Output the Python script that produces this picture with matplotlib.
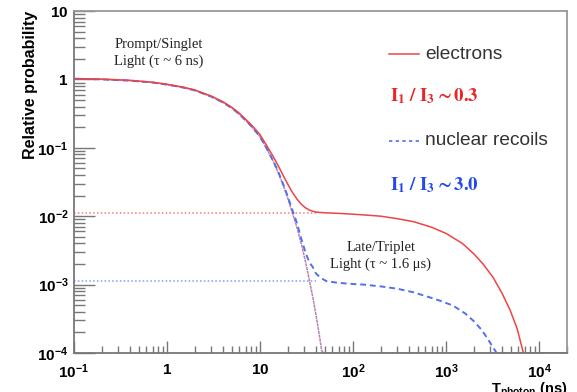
import numpy as np
import matplotlib
matplotlib.use("Agg")
import matplotlib.pyplot as plt
from matplotlib.ticker import FixedLocator, LogLocator, NullFormatter

plt.rcParams['font.family'] = ['Liberation Sans', 'DejaVu Sans']
plt.rcParams['mathtext.fontset'] = 'custom'
plt.rcParams['mathtext.rm'] = 'Liberation Sans'
plt.rcParams['mathtext.bf'] = 'Liberation Sans:bold'

# singlet (prompt) component, common to both populations
t_prompt = [0.1, 0.2, 0.4, 0.7, 1, 1.5, 2, 3, 4, 5, 6, 8, 10, 12, 14, 16, 18, 20,
            22, 25, 28, 31, 34, 37, 40, 43, 46, 48]
singlet = [1.02, 1.00, 0.96, 0.90, 0.84, 0.76, 0.69, 0.56, 0.46, 0.38, 0.31, 0.21,
           0.145, 0.093, 0.062, 0.041, 0.027, 0.018, 0.0118, 0.0068, 0.0038, 0.0021,
           0.00115, 6.5e-4, 3.6e-4, 2.0e-4, 1.1e-4, 7e-5]

# electrons (singlet + triplet)
t_elec = [0.1, 0.2, 0.4, 0.7, 1, 1.5, 2, 3, 4, 5, 6, 8, 10, 12, 14, 16, 18, 20, 22,
          25, 28, 31, 34, 37, 40, 50, 70, 100, 150, 200, 300, 450, 700, 1000, 1500,
          2000, 2500, 3200, 4000, 4900, 5800, 6800, 7500]
p_elec = [1.03, 1.01, 0.97, 0.91, 0.85, 0.77, 0.70, 0.57, 0.47, 0.39, 0.32, 0.22,
          0.156, 0.104, 0.073, 0.052, 0.038, 0.029, 0.023, 0.0178, 0.0148, 0.0132,
          0.0123, 0.0118, 0.0115, 0.0112, 0.0110, 0.0107, 0.0103, 0.0100, 0.0092,
          0.0083, 0.0069, 0.0056, 0.0040, 0.0028, 0.0020, 0.00128, 7.5e-4, 4.2e-4,
          2.3e-4, 1.0e-4, 6e-5]

# nuclear recoils (singlet + weaker triplet)
t_nr = [0.1, 0.2, 0.4, 0.7, 1, 1.5, 2, 3, 4, 5, 6, 8, 10, 12, 14, 16, 18, 20, 22,
        25, 28, 31, 34, 37, 40, 45, 52, 70, 100, 130, 200, 300, 450, 670, 900, 1200,
        1600, 2000, 2400, 2750, 3100, 3500, 3900]
p_nr = [1.02, 1.00, 0.96, 0.90, 0.84, 0.76, 0.69, 0.56, 0.46, 0.38, 0.31, 0.21,
        0.146, 0.094, 0.063, 0.042, 0.028, 0.019, 0.0129, 0.0079, 0.0045, 0.0029,
        0.0021, 0.0018, 0.00145, 0.00125, 0.00112, 0.00106, 0.00102, 0.00100,
        0.00094, 0.00087, 0.00077, 0.00065, 0.00057, 0.00049, 0.00038, 0.00029,
        0.00022, 0.000168, 0.000130, 0.000100, 7.5e-5]

# triplet components extrapolated back to early times
t_trip = [0.1, 40]
trip_elec = [0.0112, 0.0112]
trip_nr = [0.00112, 0.00112]

XMIN, XMAX = 0.1, 2e4
YMIN, YMAX = 1e-4, 10

RED = '#ee4444'
BLUE = '#5270ee'


def floored(t, v):
    # curves that drop below the range run along the lower edge
    return np.append(t, XMAX), np.maximum(np.append(v, YMIN), YMIN)


fig = plt.figure(figsize=(5.77, 3.92), dpi=100)
ax = fig.add_axes([0.1282, 0.0995, 0.8545, 0.8724])

x, y = floored(t_prompt, singlet)
ax.plot(x, y, color=RED, lw=1.1, ls=(0, (1, 1.5)), alpha=0.8)
ax.plot(x, y, color=BLUE, lw=1.1, ls=(1, (1, 1.5)), alpha=0.8)
ax.plot(t_trip, trip_elec, color=RED, lw=1.1, ls=(0, (1, 1.5)), alpha=0.7)
ax.plot(t_trip, trip_nr, color=BLUE, lw=1.1, ls=(0, (1, 1.5)), alpha=0.7)

x, y = floored(t_nr, p_nr)
ax.plot(x, y, color=BLUE, lw=1.4, ls=(0, (3, 2)))
x, y = floored(t_elec, p_elec)
ax.plot(x, y, color=RED, lw=1.1)

ax.set_xscale('log')
ax.set_yscale('log')
ax.set_xlim(XMIN, XMAX)
ax.set_ylim(YMIN, YMAX)


def dec_label(v):
    if v == 1:
        return r'$\mathbf{1}$'
    if v == 10:
        return r'$\mathbf{10}$'
    return r'$\mathbf{10^{%d}}$' % int(round(np.log10(v)))


xt = [0.1, 1, 10, 100, 1000, 10000]
yt = [1e-4, 1e-3, 1e-2, 1e-1, 1, 10]
ax.xaxis.set_major_locator(FixedLocator(xt))
ax.set_xticklabels([dec_label(v) for v in xt])
ax.yaxis.set_major_locator(FixedLocator(yt))
ax.set_yticklabels([dec_label(v) for v in yt])
ax.xaxis.set_minor_locator(LogLocator(base=10, subs=np.arange(2, 10), numticks=20))
ax.yaxis.set_minor_locator(LogLocator(base=10, subs=np.arange(2, 10), numticks=20))
ax.xaxis.set_minor_formatter(NullFormatter())
ax.yaxis.set_minor_formatter(NullFormatter())

ax.tick_params(axis='x', which='major', direction='in', length=9, width=1, pad=7,
               labelsize=11, color='#777777')
ax.tick_params(axis='x', which='minor', direction='in', length=5, width=1, color='#777777')
ax.tick_params(axis='y', which='major', direction='in', length=15, width=1, pad=4,
               labelsize=11, color='#777777')
ax.tick_params(axis='y', which='minor', direction='in', length=8, width=1, color='#777777')
for s in ax.spines.values():
    s.set_color('#777777')
    s.set_linewidth(1.3)
ax.spines['top'].set_color('#999999')
ax.spines['right'].set_color('#999999')

ax.set_ylabel('Relative probability', fontsize=11.5, fontweight='bold', loc='top')
ax.yaxis.set_label_coords(-0.073, 1.0)
ax.set_xlabel(r'$\mathbf{T_{photon}}$ (ns)', fontsize=10.5, fontweight='bold', loc='right')
ax.xaxis.set_label_coords(1.0, -0.082)

serif = ['Liberation Serif', 'DejaVu Serif']
ax.text(0.82, 2.4, 'Prompt/Singlet\nLight (\u03c4 ~ 6 ns)', family=serif, fontsize=10.5,
        ha='center', va='center', linespacing=1.35, color='#222222')
ax.text(200, 2.6e-3, 'Late/Triplet\nLight (\u03c4 ~ 1.6 \u03bcs)', family=serif,
        fontsize=10.5, ha='center', va='center', linespacing=1.35, color='#222222')

# legend drawn by hand, ROOT style
ax.plot([0.638, 0.699], [0.874, 0.874], color=RED, lw=1.1, transform=ax.transAxes)
ax.text(0.712, 0.874, 'electrons', fontsize=13.8, va='center', color='#333333',
        transform=ax.transAxes)
ax.text(0.64, 0.75, r'$\mathbf{I_1\ /\ I_3 \sim 0.3}$', math_fontfamily='stix',
        fontsize=13.5, color='#e82626', va='center', transform=ax.transAxes)
ax.plot([0.638, 0.699], [0.62, 0.62], color=BLUE, lw=1.2, ls=(0, (2, 2)),
        transform=ax.transAxes)
ax.text(0.712, 0.62, 'nuclear recoils', fontsize=13.8, va='center', color='#333333',
        transform=ax.transAxes)
ax.text(0.64, 0.49, r'$\mathbf{I_1\ /\ I_3 \sim 3.0}$', math_fontfamily='stix',
        fontsize=13.5, color='#2248ee', va='center', transform=ax.transAxes)

fig.savefig('out.png', dpi=100)
